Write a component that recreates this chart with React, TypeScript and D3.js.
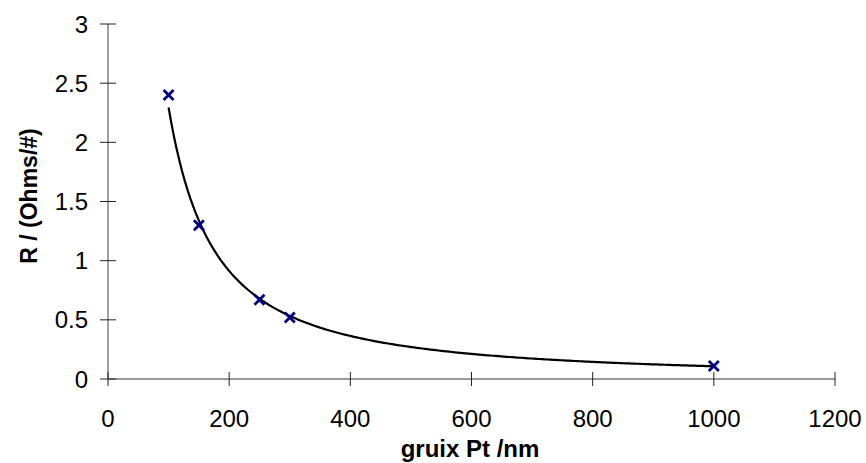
import React from 'react';
import * as d3 from 'd3';

// thickness of Pt layer (nm) and sheet resistance
const thickness = [100, 150, 250, 300, 1000];
const resistance = [2.4, 1.3, 0.67, 0.52, 0.11];
const xTicks = [0, 200, 400, 600, 800, 1000, 1200];
const yTicks = [0, 0.5, 1, 1.5, 2, 2.5, 3];

const W = 866;
const H = 463;

// power trendline (least squares on logs), like the spreadsheet did
function powerFit(xs: number[], ys: number[]) {
  const lx = xs.map(Math.log);
  const ly = ys.map(Math.log);
  const mx = d3.mean(lx)!;
  const my = d3.mean(ly)!;
  const sxy = d3.sum(lx, (v, i) => (v - mx) * (ly[i] - my));
  const sxx = d3.sum(lx, v => (v - mx) ** 2);
  const b = sxy / sxx;
  const a = Math.exp(my - b * mx);
  return (x: number) => a * Math.pow(x, b);
}

export default function App() {
  const x = d3.scaleLinear().domain([0, 1200]).range([108, 835]);
  const y = d3.scaleLinear().domain([0, 3]).range([379, 24]);

  const fit = powerFit(thickness, resistance);
  const xmin = d3.min(thickness)!;
  const xmax = d3.max(thickness)!;
  const curvePts = d3.range(0, 201).map(i => xmin + (xmax - xmin) * (i / 200));
  const line = d3.line<number>()
    .x(d => x(d))
    .y(d => y(fit(d)));

  const font = 'Liberation Sans, Arial, sans-serif';
  const m = 5;

  return (
    <svg width={W} height={H} style={{ position: 'absolute', left: 0, top: 0, background: '#fff' }}>
      {/* y axis */}
      <line x1={x(0)} x2={x(0)} y1={y(3)} y2={y(0)} stroke="#808080" strokeWidth={1.5} />
      {yTicks.map(t => (
        <g key={'y' + t}>
          <line x1={x(0) - 8} x2={x(0) + 8} y1={y(t)} y2={y(t)} stroke="#222" strokeWidth={1} />
          <text x={x(0) - 20} y={y(t)} dy="0.36em" textAnchor="end" fontFamily={font} fontSize={24}>{t}</text>
        </g>
      ))}
      {/* x axis */}
      <line x1={x(0)} x2={x(1200)} y1={y(0)} y2={y(0)} stroke="#333" strokeWidth={1.2} />
      {xTicks.map(t => (
        <g key={'x' + t}>
          <line x1={x(t)} x2={x(t)} y1={y(0) - 7} y2={y(0) + 7} stroke="#222" strokeWidth={1} />
          <text x={x(t)} y={427} textAnchor="middle" fontFamily={font} fontSize={24}>{t}</text>
        </g>
      ))}

      {/* trendline */}
      <path d={line(curvePts) || ''} fill="none" stroke="#000" strokeWidth={2.2} />

      {/* data points */}
      {thickness.map((t, i) => (
        <path
          key={'p' + i}
          d={`M${x(t) - m},${y(resistance[i]) - m}L${x(t) + m},${y(resistance[i]) + m}M${x(t) - m},${y(resistance[i]) + m}L${x(t) + m},${y(resistance[i]) - m}`}
          stroke="#000080"
          strokeWidth={2.8}
          fill="none"
        />
      ))}

      {/* titles */}
      <text x={470} y={457} textAnchor="middle" fontFamily={font} fontWeight="bold" fontSize={24}>gruix Pt /nm</text>
      <text transform={`translate(37,196) rotate(-90)`} textAnchor="middle" fontFamily={font} fontWeight="bold" fontSize={23}>R / (Ohms/#)</text>
    </svg>
  );
}
